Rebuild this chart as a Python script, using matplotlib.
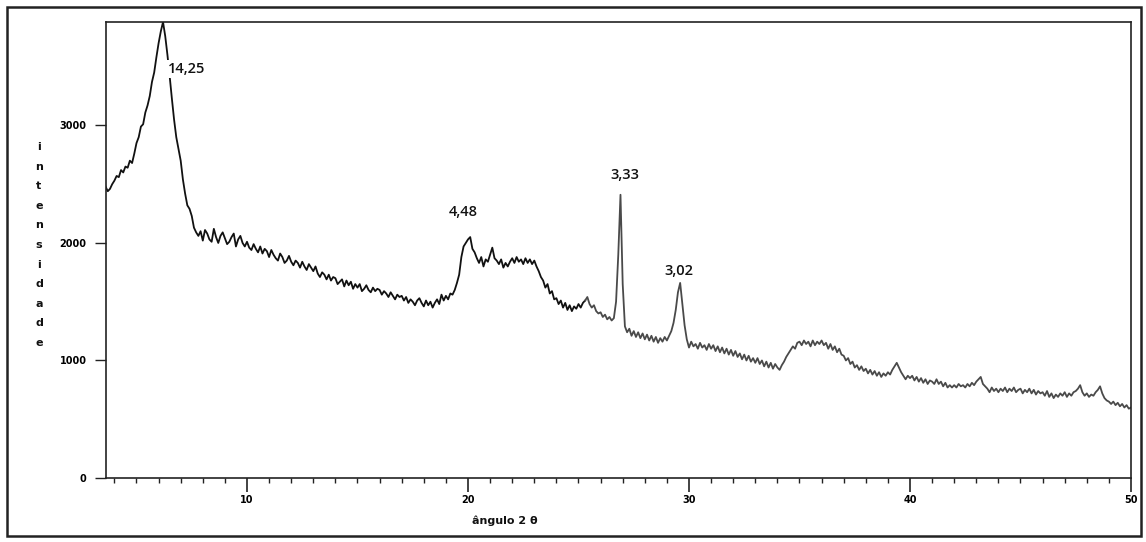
import numpy as np
import matplotlib
matplotlib.use("Agg")
import matplotlib.pyplot as plt
from matplotlib.patches import Rectangle
from matplotlib.ticker import MultipleLocator

# ---- data, 2-theta grid 3.6 .. 50.0 step 0.1 ----
angle_start = 3.6
angle_step = 0.1
intensity = [
    2480, 2440, 2460, 2500,                                   # 3.6-3.9
    2530, 2570, 2560, 2620, 2600, 2650, 2640, 2700, 2680, 2760,  # 4
    2850, 2900, 2990, 3010, 3110, 3170, 3250, 3370, 3450, 3580,  # 5
    3700, 3800, 3880, 3760, 3600, 3420, 3230, 3050, 2900, 2800,  # 6
    2700, 2540, 2420, 2320, 2290, 2230, 2130, 2090, 2060, 2100,  # 7
    2020, 2110, 2080, 2030, 2010, 2120, 2050, 2000, 2060, 2090,  # 8
    2040, 1990, 2010, 2050, 2080, 1970, 2030, 2060, 2000, 1970,  # 9
    2010, 1960, 1940, 1990, 1950, 1920, 1970, 1910, 1950, 1930,  # 10
    1880, 1940, 1900, 1870, 1850, 1910, 1880, 1830, 1850, 1890,  # 11
    1840, 1810, 1850, 1830, 1790, 1840, 1800, 1770, 1820, 1790,  # 12
    1760, 1800, 1740, 1710, 1750, 1730, 1690, 1730, 1680, 1710,  # 13
    1700, 1650, 1670, 1690, 1630, 1680, 1640, 1670, 1610, 1650,  # 14
    1620, 1650, 1590, 1610, 1640, 1600, 1580, 1620, 1590, 1610,  # 15
    1600, 1560, 1590, 1570, 1540, 1580, 1550, 1520, 1560, 1540,  # 16
    1550, 1510, 1540, 1490, 1520, 1500, 1470, 1510, 1530, 1490,  # 17
    1460, 1510, 1470, 1500, 1450, 1490, 1520, 1480, 1560, 1510,  # 18
    1550, 1520, 1570, 1560, 1600, 1660, 1730, 1880, 1970, 2000,  # 19
    2030, 2050, 1950, 1920, 1870, 1830, 1880, 1800, 1860, 1840,  # 20
    1900, 1960, 1870, 1850, 1820, 1860, 1790, 1830, 1800, 1840,  # 21
    1870, 1830, 1880, 1840, 1860, 1820, 1870, 1830, 1860, 1820,  # 22
    1850, 1800, 1760, 1710, 1680, 1620, 1650, 1570, 1590, 1520,  # 23
    1530, 1480, 1510, 1450, 1490, 1430, 1470, 1420, 1460, 1440,  # 24
    1480, 1450, 1490, 1510, 1540, 1480, 1450, 1470, 1420, 1400,  # 25
    1410, 1370, 1390, 1350, 1370, 1340, 1360, 1500, 1900, 2410,  # 26
    1650, 1290, 1240, 1270, 1210, 1250, 1200, 1240, 1190, 1230,  # 27
    1180, 1220, 1170, 1210, 1160, 1200, 1150, 1190, 1160, 1200,  # 28
    1170, 1210, 1250, 1320, 1430, 1580, 1660, 1480, 1300, 1180,  # 29
    1110, 1160, 1120, 1140, 1100, 1150, 1110, 1130, 1090, 1140,  # 30
    1100, 1130, 1080, 1120, 1070, 1110, 1060, 1100, 1050, 1090,  # 31
    1040, 1080, 1030, 1060, 1010, 1050, 1000, 1040, 990, 1020,   # 32
    980, 1020, 970, 1000, 950, 990, 940, 980, 930, 970,          # 33
    940, 920, 960, 990, 1030, 1060, 1090, 1120, 1100, 1150,      # 34
    1160, 1130, 1170, 1140, 1160, 1120, 1170, 1130, 1160, 1140,  # 35
    1170, 1130, 1150, 1100, 1140, 1090, 1120, 1070, 1100, 1050,  # 36
    1040, 1000, 1020, 970, 990, 940, 960, 920, 950, 910,         # 37
    930, 890, 920, 880, 910, 870, 900, 860, 890, 870,            # 38
    900, 880, 920, 950, 980, 940, 900, 870, 840, 870,            # 39
    850, 870, 830, 860, 820, 850, 810, 840, 800, 830,            # 40
    820, 800, 840, 800, 820, 780, 810, 770, 790, 770,            # 41
    790, 770, 800, 780, 790, 770, 800, 780, 810, 790,            # 42
    820, 840, 860, 800, 780, 760, 730, 770, 740, 760,            # 43
    730, 760, 740, 770, 730, 760, 740, 770, 730, 750,            # 44
    760, 720, 750, 730, 760, 720, 750, 710, 740, 720,            # 45
    730, 700, 740, 690, 720, 680, 710, 690, 720, 700,            # 46
    730, 690, 720, 700, 730, 740, 760, 790, 730, 700,            # 47
    720, 690, 710, 700, 730, 750, 780, 720, 680, 660,            # 48
    650, 630, 650, 620, 640, 610, 630, 600, 620, 590,            # 49
    600,                                                         # 50.0
]
angle = np.round(angle_start + angle_step * np.arange(len(intensity)), 2)
intensity = np.array(intensity, dtype=float)

peak_labels = ["14,25", "4,48", "3,33", "3,02"]
peak_label_x = [7.26, 19.77, 27.08, 29.55]
peak_label_y = [3480, 2260, 2574, 1762]

y_ticks = [0, 1000, 2000, 3000]
x_ticks = [10, 20, 30, 40, 50]
y_label = "intensidade"
x_label = "ângulo 2 θ"

# ---- figure ----
W, H = 1146, 542
fig = plt.figure(figsize=(W / 100, H / 100), dpi=100)
fig.patch.set_facecolor("white")

# outer frame
fig.patches.append(Rectangle((7 / W, 1 - 536 / H), (1141 - 7) / W, (536 - 7) / H,
                             transform=fig.transFigure, fill=False,
                             edgecolor="#222222", linewidth=1.8))

left, right, top, bottom = 106, 1131, 22, 478
ax = fig.add_axes([left / W, 1 - bottom / H, (right - left) / W, (bottom - top) / H])

split = 25.3
m1 = angle <= split + 1e-9
m2 = angle >= split - 1e-9
ax.plot(angle[m1], intensity[m1], color="#111111", linewidth=1.3)
ax.plot(angle[m2], intensity[m2], color="#4a4a4a", linewidth=1.3)

ax.set_xlim(3.62, 50.0)
ax.set_ylim(0, 3880)

ax.set_xticks(x_ticks)
ax.set_xticklabels([str(v) for v in x_ticks])
ax.xaxis.set_minor_locator(MultipleLocator(1))
ax.set_yticks(y_ticks)
ax.set_yticklabels([str(v) for v in y_ticks])

ax.tick_params(axis="x", which="major", direction="out", length=10, width=1.2,
               pad=2, labelsize=7, color="#222222")
ax.tick_params(axis="x", which="minor", direction="out", length=3.5, width=1.0,
               color="#222222")
ax.tick_params(axis="y", which="major", direction="out", length=8, width=1.0,
               pad=6, labelsize=7, color="#222222")
for lab in ax.get_xticklabels() + ax.get_yticklabels():
    lab.set_fontweight("bold")

for s in ax.spines.values():
    s.set_linewidth(1.2)
    s.set_color("#222222")

# peak annotations
for t, xx, yy in zip(peak_labels, peak_label_x, peak_label_y):
    ax.text(xx, yy, t, ha="center", va="center", fontsize=10.5,
            family="Open Sans", fontweight="semibold", color="#111111",
            bbox=dict(facecolor="white", edgecolor="none", pad=1.5))

# stacked vertical y label
for i, ch in enumerate(y_label):
    py = 147 + i * 19.6
    fig.text(39 / W, 1 - py / H, ch, ha="center", va="center", fontsize=8,
             fontweight="bold", color="#111111")

fig.text(505 / W, 1 - 521 / H, x_label, ha="center", va="center", fontsize=8,
         fontweight="bold", color="#111111")

fig.savefig("out.png", dpi=100)
